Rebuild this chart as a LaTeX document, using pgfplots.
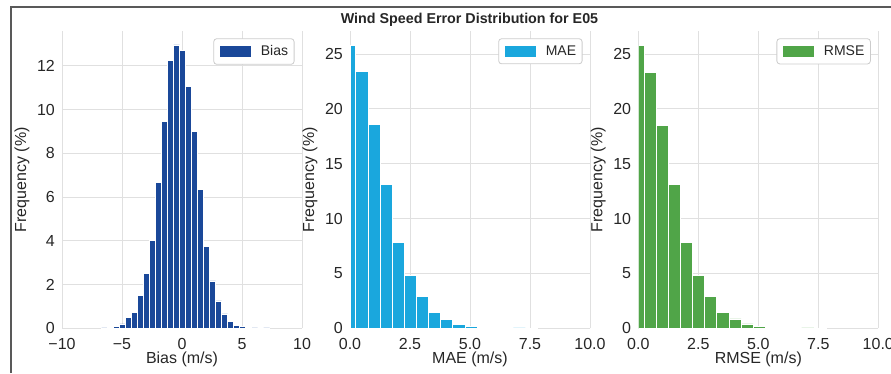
\documentclass[border=0pt]{standalone}
\usepackage{fontspec}
\setmainfont{Liberation Sans}
\usepackage{pgfplots}
\pgfplotsset{compat=1.18}

\definecolor{biasblue}{RGB}{26,72,153}
\definecolor{maeblue}{RGB}{26,167,221}
\definecolor{rmsegreen}{RGB}{80,165,72}
\definecolor{txt}{RGB}{38,38,38}
\definecolor{gridgray}{RGB}{224,224,224}
\definecolor{legendedge}{RGB}{204,204,204}

\pgfplotsset{
  histpanel/.style={
    scale only axis, width=240pt, height=297.3pt,
    anchor=south west,
    ymin=0,
    axis line style={draw=none},
    major tick length=0pt,
    grid=major,
    grid style={gridgray, line width=1pt},
    tick label style={font=\fontsize{16}{19}\selectfont, text=txt},
    yticklabel style={inner sep=0pt, anchor=east, xshift=-7pt},
    xticklabel style={inner sep=0pt, anchor=north, yshift=-9.5pt},
    label style={font=\fontsize{16}{19}\selectfont, text=txt},
    xlabel style={at={(axis description cs:0.5,-0.1195)}, anchor=base},
    ylabel style={at={(axis description cs:-0.1667,0.5)}, anchor=center},
    ylabel={Frequency (\%)},
    legend style={at={(1,1)}, anchor=north east, xshift=-7.5pt, yshift=-7.3pt,
      draw=legendedge, line width=0.8pt, rounded corners=3pt, fill=white,
      inner xsep=6pt, inner ysep=7pt,
      font=\fontsize{14}{16}\selectfont, text=txt,
      nodes={inner sep=0pt}, column sep=10.5pt},
  },
  errx/.style={
    xmin=0, xmax=10, ymax=27.1,
    xtick={0,2.5,5,7.5,10}, xticklabels={0.0,2.5,5.0,7.5,10.0},
    ytick={0,5,10,15,20,25}, yticklabels={0,5,10,15,20,25},
  },
  histbar/.style={ybar interval, fill=#1, draw=white, line width=0.6pt},
  patch/.style={legend image code/.code={%
    \fill[#1, sharp corners] (0pt,-5pt) rectangle (30pt,5pt);}},
}

% Bin edges (left edge of each bar, last row closes the final bar) and frequency in %
\pgfplotstableread{
edge freq
-6.7 0.02
-6.2 0.04
-5.7 0.08
-5.2 0.20
-4.7 0.50
-4.2 0.73
-3.7 1.52
-3.2 2.52
-2.7 4.01
-2.2 6.66
-1.7 9.45
-1.2 12.25
-0.7 12.96
-0.2 12.70
0.3 11.05
0.8 9.00
1.3 6.37
1.8 3.75
2.3 2.17
2.8 1.25
3.3 0.66
3.8 0.30
4.3 0.15
4.8 0.08
5.3 0.04
5.8 0.02
6.3 0.01
6.8 0.02
7.3 0
}\biasdata

\pgfplotstableread{
edge freq
0 25.82
0.24 23.39
0.745 18.56
1.25 13.15
1.755 7.81
2.26 4.83
2.765 2.89
3.27 1.46
3.775 0.82
4.28 0.39
4.785 0.21
5.29 0.10
5.795 0.05
6.3 0.02
6.805 0.03
7.31 0.01
7.815 0
}\maedata

\pgfplotstableread{
edge freq
0 25.80
0.24 23.35
0.745 18.50
1.25 13.10
1.755 7.80
2.26 4.85
2.765 2.90
3.27 1.45
3.775 0.85
4.28 0.40
4.785 0.20
5.29 0.10
5.795 0.05
6.3 0.02
6.805 0.03
7.31 0.01
7.815 0
}\rmsedata

\begin{document}
\begin{tikzpicture}
\useasboundingbox (0,0) rectangle (891pt,373pt);

% figure frame
\draw[line width=1.6pt, black!65] (11pt,0pt) -- (11pt,366pt) -- (891pt,366pt);

\node[anchor=base, font=\fontsize{14.3}{17}\selectfont\bfseries, text=txt]
  at (469.5pt,349pt) {Wind Speed Error Distribution for E05};

% Bias
\begin{axis}[histpanel, at={(62pt,44.7pt)},
  xmin=-10, xmax=10, ymax=13.6,
  xtick={-10,-5,0,5,10}, xticklabels={−10,−5,0,5,10},
  ytick={0,2,4,6,8,10,12}, yticklabels={0,2,4,6,8,10,12},
  xlabel={Bias (m/s)}, patch=biasblue]
\addplot[histbar=biasblue] table[x=edge, y=freq] {\biasdata};
\addlegendentry{Bias}
\end{axis}

% MAE
\begin{axis}[histpanel, errx, at={(350pt,44.7pt)},
  xlabel={MAE (m/s)}, patch=maeblue]
\addplot[histbar=maeblue] table[x=edge, y=freq] {\maedata};
\addlegendentry{MAE}
\end{axis}

% RMSE
\begin{axis}[histpanel, errx, at={(638.3pt,44.7pt)},
  xlabel={RMSE (m/s)}, patch=rmsegreen]
\addplot[histbar=rmsegreen] table[x=edge, y=freq] {\rmsedata};
\addlegendentry{RMSE}
\end{axis}
\end{tikzpicture}
\end{document}
